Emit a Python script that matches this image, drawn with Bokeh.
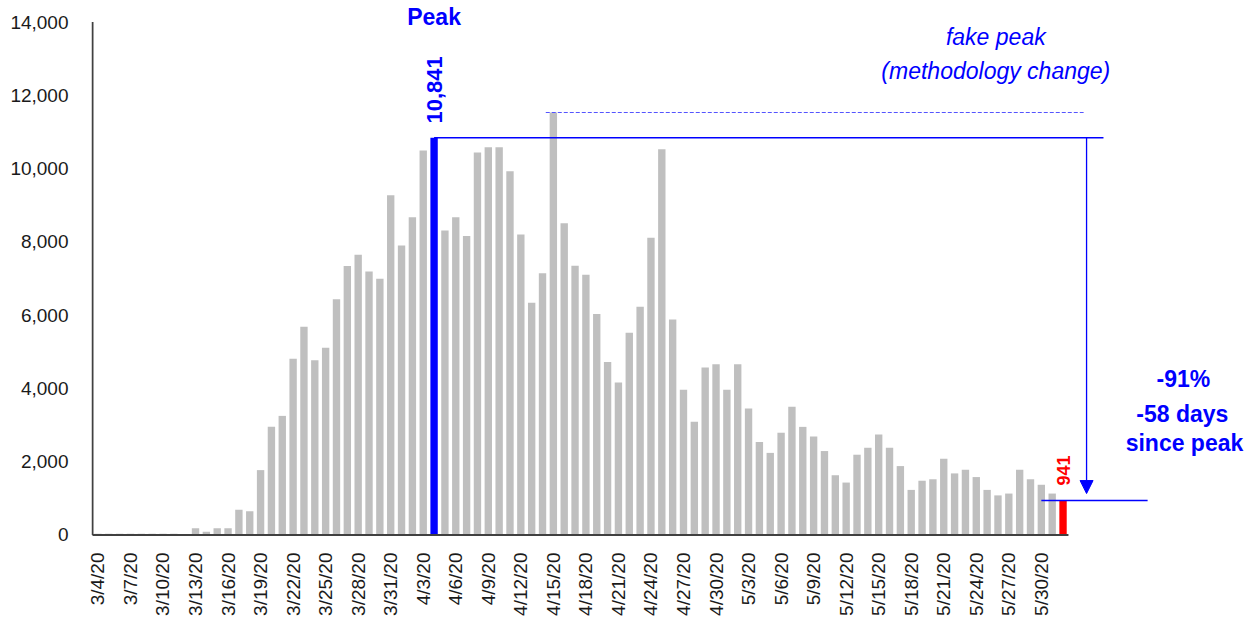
import math
import pandas as pd
from bokeh.plotting import figure
from bokeh.models import FixedTicker, Arrow, NormalHead, ColumnDataSource, NumeralTickFormatter
from bokeh.core.properties import value
from bokeh.embed import file_html
from bokeh.resources import INLINE

# ---------------- data ----------------
dates = [f"{d.month}/{d.day}/20" for d in pd.date_range("2020-03-04", "2020-06-01")]

march_cases = [35, 35, 35, 35, 35, 35, 35, 35, 0,
               180, 90, 180, 180, 690, 650, 1770, 2950, 3250, 4810, 5680,
               4770, 5110, 6430, 7340, 7650, 7190, 6990, 9270]
april_cases = [7900, 8670, 10490, 10841, 8310, 8670, 8160, 10440, 10580, 10580,
               9930, 8200, 6340, 7140, 11530, 8510, 7350, 7100, 6030, 4720,
               4160, 5520, 6230, 8110, 10530, 5880, 3960, 3090, 4570, 4660]
may_cases = [3960, 4660, 3450, 2540, 2240, 2790, 3500, 2950, 2690, 2290,
             1630, 1430, 2190, 2380, 2740, 2380, 1880, 1230, 1480, 1520,
             2080, 1680, 1780, 1580, 1230, 1080, 1130, 1780, 1520, 1370, 1130]
june_cases = [941]
new_cases = march_cases + april_cases + may_cases + june_cases

peak_date = "4/4/20"
fake_peak_date = "4/15/20"
y_ticks = [0, 2000, 4000, 6000, 8000, 10000, 12000, 14000]

# ---------------- derived ----------------
n = len(dates)
idx = list(range(n))
peak_i = dates.index(peak_date)
fake_i = dates.index(fake_peak_date)
last_i = n - 1
peak_val = new_cases[peak_i]
fake_val = new_cases[fake_i]
last_val = new_cases[last_i]

GRAY = "#BFBFBF"
BLUE = "#0000FF"
RED = "#FF0000"
AXIS = "#404040"
FONT = "Liberation Sans"

colors = [GRAY] * n
colors[peak_i] = BLUE
colors[last_i] = RED

src = ColumnDataSource(dict(x=idx, top=new_cases, color=colors))

p = figure(width=1260, height=619,
           x_range=(-0.592, 107.21), y_range=(-42, 14587),
           output_backend="svg", toolbar_location=None,
           min_border_left=91, min_border_right=0,
           min_border_top=0, min_border_bottom=83)
p.outline_line_color = None
p.xgrid.grid_line_color = None
p.ygrid.grid_line_color = None
p.background_fill_color = "white"
p.border_fill_color = "white"

p.vbar(x="x", top="top", width=0.68, fill_color="color", line_color=None, source=src)

# axis lines
p.segment(x0=[-0.5], y0=[0], x1=[last_i + 0.5], y1=[0], line_color=AXIS, line_width=2)
p.segment(x0=[-0.5], y0=[0], x1=[-0.5], y1=[y_ticks[-1]], line_color=AXIS, line_width=2)

# x axis
xt = idx[::3]
p.xaxis.ticker = FixedTicker(ticks=xt)
p.xaxis.major_label_overrides = {i: dates[i] for i in xt}
p.xaxis.major_label_orientation = math.pi / 2
p.xaxis.axis_line_color = None
p.xaxis.major_tick_line_color = None
p.xaxis.minor_tick_line_color = None
p.xaxis.major_label_text_font = FONT
p.xaxis.major_label_text_font_size = "19px"
p.xaxis.major_label_text_color = "#1a1a1a"
p.xaxis.major_label_standoff = 10

# y axis
p.yaxis.ticker = FixedTicker(ticks=y_ticks)
p.yaxis.formatter = NumeralTickFormatter(format="0,0")
p.yaxis.axis_line_color = None
p.yaxis.major_tick_line_color = None
p.yaxis.minor_tick_line_color = None
p.yaxis.major_label_text_font = FONT
p.yaxis.major_label_text_font_size = "19px"
p.yaxis.major_label_text_color = "#1a1a1a"
p.yaxis.major_label_standoff = 17

# annotation lines
x_peak_end = 92.73
x_arrow = 91.17
p.segment(x0=[peak_i], y0=[peak_val], x1=[x_peak_end], y1=[peak_val], line_color=BLUE, line_width=1.5)
p.segment(x0=[fake_i - 0.7], y0=[fake_val], x1=[90.9], y1=[fake_val],
          line_color="#5555FF", line_width=1, line_dash="4 2")
p.segment(x0=[last_i - 2], y0=[last_val], x1=[96.8], y1=[last_val], line_color=BLUE, line_width=1.5)
p.add_layout(Arrow(end=NormalHead(size=13, fill_color=BLUE, line_color=BLUE),
                   x_start=x_arrow, y_start=peak_val, x_end=x_arrow, y_end=1130,
                   line_color=BLUE, line_width=1.3))

# texts
p.text(x=[peak_i], y=[14130], text=["Peak"], text_font=value(FONT), text_font_style="bold",
       text_font_size="23px", text_color=BLUE, text_align="center", text_baseline="alphabetic")
p.text(x=[peak_i], y=[peak_val + 390], text=[f"{peak_val:,}"], angle=math.pi / 2,
       text_font=value(FONT), text_font_style="bold", text_font_size="22px",
       text_color=BLUE, text_align="left", text_baseline="middle")
p.text(x=[last_i], y=[last_val + 410], text=[f"{last_val:,}"], angle=math.pi / 2,
       text_font=value(FONT), text_font_style="bold", text_font_size="18px",
       text_color=RED, text_align="left", text_baseline="middle")
p.text(x=[82.8, 82.8], y=[13580, 12650], text=["fake peak", "(methodology change)"],
       text_font=value(FONT), text_font_style="italic", text_font_size="23px",
       text_color=BLUE, text_align="center", text_baseline="alphabetic")
pct = round((last_val / peak_val - 1) * 100)
days = last_i - peak_i
p.text(x=[100.1, 100.0, 100.2], y=[4250, 3290, 2500],
       text=[f"{pct}%", f"-{days} days", "since peak"],
       text_font=value(FONT), text_font_style="bold", text_font_size="23px",
       text_color=BLUE, text_align="center", text_baseline="alphabetic")

open("out.html", "w").write(file_html(p, INLINE))
